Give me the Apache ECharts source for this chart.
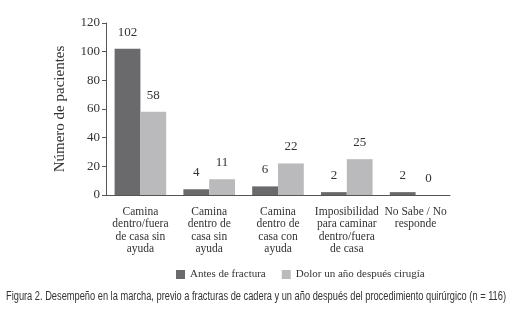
<!DOCTYPE html>
<html>
<head>
<meta charset="utf-8">
<script src="https://cdn.jsdelivr.net/npm/echarts@6/dist/echarts.min.js"></script>
<style>
html, body { margin: 0; padding: 0; background: #fff; }
#chart { width: 514px; height: 312px; }
</style>
</head>
<body>
<div id="chart"></div>
<script>
// categorias del eje x
var categorias = [
	"Camina\ndentro/fuera\nde casa sin\nayuda",
	"Camina\ndentro de\ncasa sin\nayuda",
	"Camina\ndentro de\ncasa con\nayuda",
	"Imposibilidad\npara caminar\ndentro/fuera\nde casa",
	"No Sabe / No\nresponde"
];
var nombresSeries = ["Antes de fractura", "Dolor un año después cirugía"];
var antesFractura = [102, 4, 6, 2, 2];
var despuesCirugia = [58, 11, 22, 25, 0];

var serif = "Liberation Serif";
var pie = "Figura 2. Desempeño en la marcha, previo a fracturas de cadera y un año después del procedimiento quirúrgico (n = 116)";

// ancho del pie de figura, para comprimirlo como en la fuente condensada
var ctx = document.createElement("canvas").getContext("2d");
ctx.font = "12px 'Liberation Sans'";
var escala = 500 / ctx.measureText(pie).width;

var myChart = echarts.init(document.getElementById("chart"));

var etiqueta = {
	show : true,
	position : "top",
	distance : 10,
	fontFamily : serif,
	fontSize : 13,
	color : "#333"
};

var option = {
	animation : false,
	color : [ "#6a6a6c", "#bababc" ],
	graphic : [ {
		type : "text",
		left : 6,
		top : 291,
		scaleX : escala,
		style : {
			text : pie,
			font : "12px 'Liberation Sans'",
			fill : "#333"
		}
	} ],
	legend : {
		data : nombresSeries,
		top : 264,
		left : 171,
		itemWidth : 9,
		itemHeight : 9,
		itemGap : 16,
		icon : "rect",
		textStyle : {
			fontFamily : serif,
			fontSize : 11,
			color : "#333"
		}
	},
	grid : {
		left : 106,
		right : 64,
		top : 23,
		bottom : 117
	},
	xAxis : {
		type : "category",
		data : categorias,
		axisLine : { lineStyle : { color : "#555", width : 1 } },
		axisTick : { show : false },
		axisLabel : {
			interval : 0,
			margin : 11,
			fontFamily : serif,
			fontSize : 11.5,
			lineHeight : 12.3,
			color : "#333"
		}
	},
	yAxis : {
		type : "value",
		min : 0,
		max : 120,
		interval : 20,
		name : "Número de pacientes",
		nameLocation : "middle",
		nameGap : 38,
		nameTextStyle : {
			fontFamily : serif,
			fontSize : 15,
			color : "#333"
		},
		splitLine : { show : false },
		axisLine : { show : true, lineStyle : { color : "#555", width : 1 } },
		axisTick : { show : true, length : 4, lineStyle : { color : "#555" } },
		axisLabel : {
			margin : 6,
			fontFamily : serif,
			fontSize : 13,
			color : "#333"
		}
	},
	series : [ {
		name : nombresSeries[0],
		type : "bar",
		data : antesFractura,
		barGap : "0%",
		barCategoryGap : "25%",
		label : etiqueta
	}, {
		name : nombresSeries[1],
		type : "bar",
		data : despuesCirugia,
		label : etiqueta
	} ]
};
myChart.setOption(option);
</script>
</body>
</html>
